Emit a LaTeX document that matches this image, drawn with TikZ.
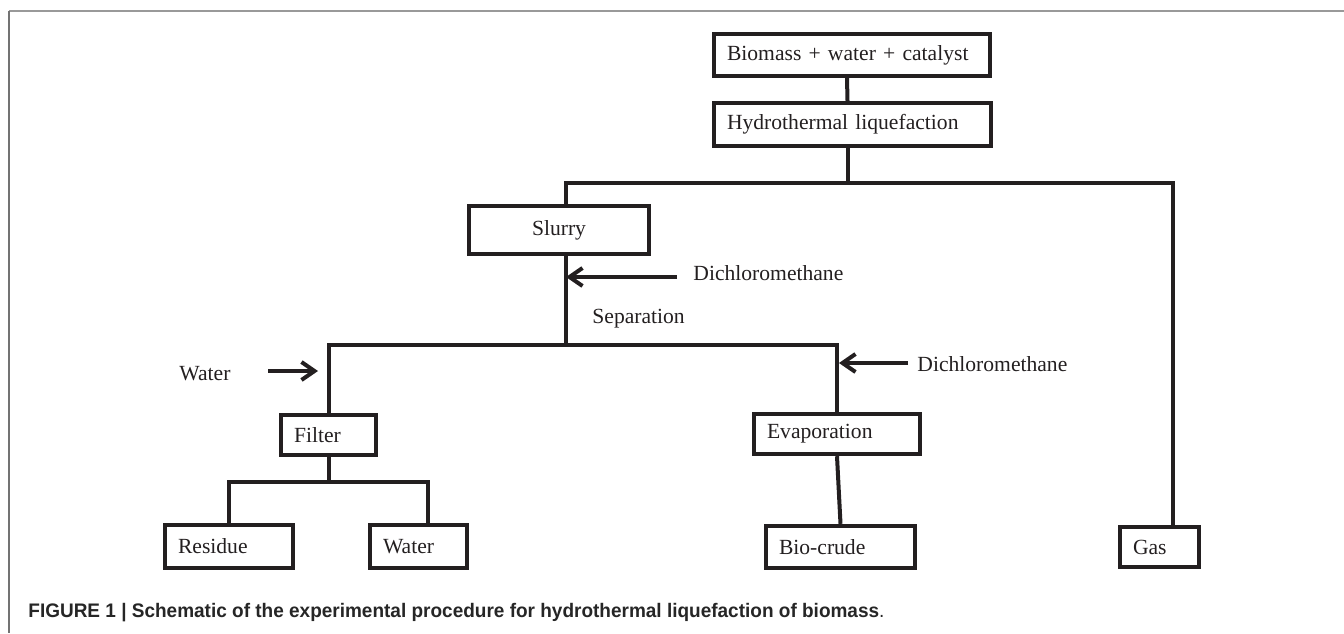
\documentclass[tikz,border=0pt]{standalone}
\usepackage{fontspec}
\usepackage{graphicx}
\setmainfont{Liberation Serif}
\newfontfamily\capfont{Liberation Sans}
\usetikzlibrary{arrows.meta}
\definecolor{ink}{HTML}{231F20}
\begin{document}
\begin{tikzpicture}[x=0.5pt,y=-0.5pt,
  box/.style={draw=ink, line width=2.2pt, inner xsep=6.5pt, inner ysep=0pt, align=left, font=\fontsize{10.8}{13}\selectfont, text=ink},
  conn/.style={draw=ink, line width=2pt},
  arr/.style={draw=ink, line width=2pt, -{Straight Barb[length=6.5pt,width=9pt]}},
  lbl/.style={inner sep=0pt, anchor=base west, font=\fontsize{10.8}{13}\selectfont, text=ink}]
\useasboundingbox (0,0) rectangle (1344,633);
% frame
\draw[black!40, line width=1pt] (9,11) -- (1344,11);
\draw[black!55, line width=1pt] (9,11) -- (9,633);
% boxes
\node[box, text width=125pt, minimum height=20.8pt] (bio) at (852,55) {Biomass + water + catalyst};
\node[box, text width=125.5pt, minimum height=21.5pt] (hyd) at (852.5,124.5) {Hydrothermal liquefaction};
\node[box, align=center, text width=77pt, minimum height=24pt] (slurry) at (559,230) {Slurry};
\node[box, text width=34.5pt, minimum height=20pt] (filter) at (328.5,435) {Filter};
\node[box, text width=70pt, minimum height=20pt] (evap) at (837,434) {Evaporation};
\node[box, text width=51pt, minimum height=21.5pt] (res) at (229,546.5) {Residue};
\node[box, text width=35.5pt, minimum height=21.5pt] (wat) at (418.5,546.5) {Water};
\node[box, text width=61.5pt, minimum height=21pt] (bc) at (840.5,547) {Bio-crude};
\node[box, text width=26.5pt, minimum height=20pt] (gas) at (1159.5,547) {Gas};
% labels
\node[lbl] (dcm1) at (693,280) {Dichloromethane};
\node[lbl] (sep) at (592,323) {Separation};
\node[lbl] (wtxt) at (179,380) {Water};
\node[lbl] (dcm2) at (917,371) {Dichloromethane};
% junctions
\coordinate (j1) at (848,183);
\coordinate (tl) at (566,183);
\coordinate (tr) at (1173,183);
\coordinate (ml) at (329,345);
\coordinate (mr) at (837,345);
\coordinate (fj) at (329,482);
\coordinate (fl) at (229,482);
\coordinate (fr) at (428,482);
\coordinate (a1) at (677,277);
\coordinate (a2) at (908,363);
\coordinate (w1) at (268,371);
\coordinate (w2) at (318,371);
% connectors
\draw[conn] ([xshift=-2.5pt]bio.south) -- ([xshift=-2.5pt]hyd.north);
\draw[conn] (hyd.south -| j1) -- (j1);
\draw[conn] (tl |- slurry.north) -- (tl) -- (tr) -- (tr |- gas.north);
\draw[conn] (tl |- slurry.south) -- (tl |- ml);
\draw[conn] (filter.north -| ml) -- (ml) -- (mr) -- (evap.north);
\draw[conn] (filter.south -| fj) -- (fj);
\draw[conn] (res.north -| fl) -- (fl) -- (fr) -- (fr |- wat.north);
\draw[conn] (evap.south) -- (bc.north);
% arrows
\draw[arr] (a1) -- (a1 -| tl);
\draw[arr] (a2) -- ([xshift=1pt]a2 -| mr);
\draw[arr] (w1) -- (w2);
% caption
\node[anchor=base west, inner sep=0pt, font=\capfont\fontsize{9.8}{12}\selectfont, text=black!85] (cap) at (28,617)
  {\resizebox{428pt}{\height}{\bfseries FIGURE 1 | Schematic of the experimental procedure for hydrothermal liquefaction of biomass\mdseries.}};
\end{tikzpicture}
\end{document}
